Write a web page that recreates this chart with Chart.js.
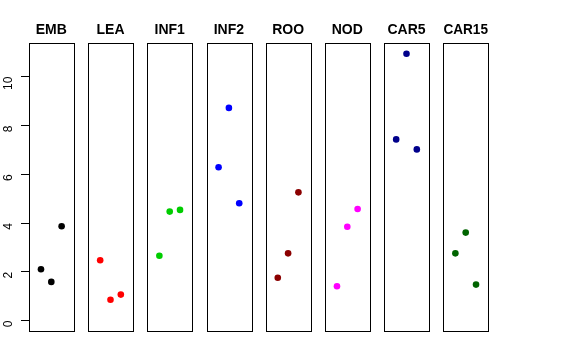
<!DOCTYPE html>
<html>
<head>
<meta charset="utf-8">
<script src="https://cdn.jsdelivr.net/npm/chart.js@4/dist/chart.umd.min.js"></script>
<style>
  body { margin: 0; background: #fff; }
  #wrap { position: relative; width: 576px; height: 360px; }
  #wrap canvas { position: absolute; left: 0; top: 0; }
</style>
</head>
<body>
<div id="wrap"></div>
<script>
const groups = ["EMB", "LEA", "INF1", "INF2", "ROO", "NOD", "CAR5", "CAR15"]
const colors = ["#000000", "#FF0000", "#00CD00", "#0000FF", "#8B0000", "#FF00FF", "#00008B", "#006400"]
const xPos = [1, 2, 3]

const emb = [2.11, 1.59, 3.87]
const lea = [2.48, 0.86, 1.07]
const inf1 = [2.66, 4.47, 4.54]
const inf2 = [6.29, 8.72, 4.81]
const roo = [1.76, 2.76, 5.26]
const nod = [1.41, 3.85, 4.58]
const car5 = [7.43, 10.94, 7.02]
const car15 = [2.76, 3.61, 1.48]
const series = [emb, lea, inf1, inf2, roo, nod, car5, car15]

const yTicks = [0, 2, 4, 6, 8, 10]

const boxPlugin = {
  id: "box",
  afterDraw(chart) {
    const { ctx, chartArea: a } = chart
    ctx.save()
    ctx.strokeStyle = "#000"
    ctx.lineWidth = 1
    ctx.strokeRect(Math.round(a.left) + 0.5, Math.round(a.top) + 0.5,
      Math.round(a.right - a.left), Math.round(a.bottom - a.top))
    ctx.restore()
  },
}

const wrap = document.getElementById("wrap")
groups.forEach((name, i) => {
  const canvas = document.createElement("canvas")
  canvas.width = 576
  canvas.height = 360
  wrap.appendChild(canvas)

  const left = 29 + 59.2 * i
  const right = left + 44.6
  const first = i === 0

  const yScale = {
    type: "linear",
    min: -0.41,
    max: 11.38,
    display: first,
  }
  if (first) {
    Object.assign(yScale, {
      afterFit: s => { s.width = left },
      afterBuildTicks: s => { s.ticks = yTicks.map(v => ({ value: v })) },
      border: { display: false },
      grid: { drawOnChartArea: false, drawTicks: true, tickLength: 8, color: "#000", lineWidth: 1 },
      ticks: {
        color: "#000",
        font: { family: "Liberation Sans", size: 12 },
        minRotation: 90,
        maxRotation: 90,
        padding: 12,
      },
    })
  }

  new Chart(canvas, {
    type: "scatter",
    data: {
      datasets: [{
        data: series[i].map((v, j) => ({ x: xPos[j], y: v })),
        backgroundColor: colors[i],
        borderColor: colors[i],
        pointRadius: 3.3,
        pointHoverRadius: 3.3,
        borderWidth: 0,
      }],
    },
    options: {
      responsive: false,
      animation: false,
      layout: { padding: { left: first ? 0 : left, right: 576 - right, top: 0, bottom: 29.3 } },
      plugins: { legend: { display: false }, tooltip: { enabled: false } },
      scales: {
        x: {
          type: "linear",
          position: "top",
          min: -0.16,
          max: 4.16,
          grid: { display: false, drawTicks: false },
          border: { display: false },
          ticks: { display: false },
          title: {
            display: true,
            text: name,
            color: "#000",
            font: { family: "Liberation Sans", size: 14, weight: "bold", lineHeight: 1.2 },
            padding: { top: 21.8, bottom: 4.4 },
          },
        },
        y: yScale,
      },
    },
    plugins: [boxPlugin],
  })
})
</script>
</body>
</html>
